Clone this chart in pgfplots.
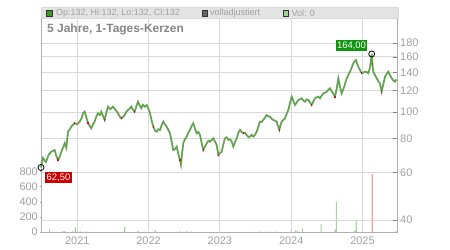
\documentclass[border=0pt]{standalone}
\usepackage{pgfplots}
\usepackage{pgfplotstable}
\pgfplotsset{compat=1.18}
\usepackage{fontspec}
\setmainfont{Liberation Sans}
\definecolor{tickgray}{HTML}{A0A0A0}
\definecolor{gridgray}{HTML}{D9D9D9}
\definecolor{axisgray}{HTML}{B0B0B0}
\definecolor{headgray}{HTML}{E3E3E3}
\definecolor{titlegray}{HTML}{858585}
\definecolor{pgreen}{HTML}{4DB030}
\definecolor{pgray}{HTML}{999999}
\definecolor{pred}{HTML}{CC1111}
\definecolor{volgreen}{HTML}{9ED994}
\definecolor{volred}{HTML}{F0A0A0}
\definecolor{boxgreen}{HTML}{119511}
\definecolor{boxred}{HTML}{CC0000}

\pgfplotstableread{
x y
2020.491 62.5
2020.519 67.8
2020.560 65.5
2020.600 69.8
2020.635 71.5
2020.683 72.5
2020.705 69.0
2020.729 66.6
2020.755 68.5
2020.776 71.5
2020.800 74.0
2020.823 76.8
2020.846 73.9
2020.870 84.7
2020.895 86.5
2020.916 88.4
2020.940 90.0
2020.964 91.0
2021.000 90.2
2021.034 92.3
2021.060 95.0
2021.080 99.1
2021.104 100.4
2021.128 95.5
2021.150 91.0
2021.175 89.0
2021.196 87.2
2021.220 90.0
2021.244 92.3
2021.268 96.5
2021.290 99.1
2021.315 97.5
2021.337 100.4
2021.360 96.8
2021.384 93.6
2021.405 99.0
2021.431 104.8
2021.465 102.5
2021.501 104.8
2021.535 102.0
2021.571 99.1
2021.595 96.5
2021.617 94.9
2021.640 96.0
2021.665 97.6
2021.690 100.5
2021.711 101.9
2021.735 103.0
2021.757 104.8
2021.780 102.0
2021.805 100.4
2021.830 105.5
2021.851 109.3
2021.875 106.0
2021.898 103.4
2021.920 106.5
2021.945 104.8
2021.973 106.3
2022.000 102.5
2022.020 99.1
2022.043 93.0
2022.066 88.4
2022.090 85.5
2022.114 84.7
2022.137 86.5
2022.160 86.0
2022.183 89.5
2022.206 92.3
2022.230 90.0
2022.254 88.4
2022.277 86.0
2022.300 83.6
2022.323 78.0
2022.346 72.5
2022.370 73.0
2022.394 74.6
2022.418 70.0
2022.440 66.6
2022.454 64.0
2022.470 70.5
2022.487 76.8
2022.510 79.5
2022.534 81.2
2022.558 84.0
2022.581 86.0
2022.605 89.0
2022.627 91.0
2022.650 87.0
2022.675 83.6
2022.698 84.5
2022.721 82.4
2022.745 77.0
2022.767 72.5
2022.790 74.5
2022.815 76.8
2022.840 78.5
2022.861 77.8
2022.885 79.0
2022.907 80.1
2022.930 78.0
2022.955 75.7
2022.978 69.5
2023.000 70.5
2023.025 71.5
2023.048 76.0
2023.071 80.1
2023.095 80.8
2023.118 79.0
2023.142 79.5
2023.166 77.8
2023.188 74.6
2023.212 77.5
2023.236 80.1
2023.260 84.0
2023.282 86.0
2023.305 84.5
2023.328 83.6
2023.352 84.0
2023.376 82.4
2023.400 81.0
2023.422 81.2
2023.445 82.5
2023.468 81.2
2023.492 82.5
2023.516 84.7
2023.540 88.5
2023.562 92.3
2023.585 92.0
2023.609 93.6
2023.632 95.5
2023.656 97.6
2023.680 96.5
2023.703 96.2
2023.726 94.5
2023.749 93.6
2023.773 93.0
2023.797 92.3
2023.815 89.0
2023.833 86.0
2023.850 89.5
2023.867 92.3
2023.890 93.5
2023.913 94.9
2023.936 98.5
2023.959 101.9
2023.983 107.9
2024.007 114.1
2024.030 110.0
2024.053 106.3
2024.077 108.5
2024.100 110.9
2024.123 111.5
2024.147 112.5
2024.170 110.5
2024.194 109.3
2024.217 111.5
2024.240 110.9
2024.265 108.5
2024.288 106.3
2024.311 109.5
2024.334 112.5
2024.357 113.5
2024.380 114.1
2024.404 112.5
2024.427 115.0
2024.450 117.4
2024.474 118.0
2024.498 119.0
2024.521 121.0
2024.544 122.5
2024.580 118.0
2024.614 114.1
2024.638 122.0
2024.661 133.4
2024.685 124.0
2024.708 117.4
2024.743 124.0
2024.778 133.4
2024.801 137.0
2024.825 141.1
2024.848 146.0
2024.871 151.5
2024.890 154.0
2024.909 155.8
2024.925 151.0
2024.941 147.2
2024.965 143.0
2024.989 139.2
2025.012 140.0
2025.035 141.1
2025.058 140.5
2025.081 139.2
2025.105 146.0
2025.129 164.0
2025.140 150.0
2025.151 141.1
2025.175 137.0
2025.199 133.4
2025.222 130.0
2025.245 127.8
2025.269 119.0
2025.292 127.0
2025.316 135.2
2025.340 138.5
2025.362 141.1
2025.385 137.0
2025.409 133.4
2025.432 131.0
2025.456 129.6
2025.475 132.0
}\price

\pgfplotstableread{
x y
2020.729 66.6
2020.964 91.0
2021.150 91.0
2021.384 93.6
2021.617 94.9
2021.805 100.4
2022.066 88.4
2022.440 66.6
2022.767 72.5
2022.978 69.5
2023.328 83.6
2023.833 86.0
2024.288 106.3
2024.614 114.1
2024.989 139.2
2025.140 150.0
2025.269 119.0
}\reds

\begin{document}
\begin{tikzpicture}
\path[use as bounding box] (0bp,0bp) rectangle (450bp,250bp);
% volume axis
\begin{axis}[
  at={(41bp,18bp)}, anchor=south west, scale only axis,
  width=356bp, height=225bp,
  xmin=2020.491, xmax=2025.484,
  ymin=0, ymax=2985,
  xtick=\empty,
  ytick={0,200,400,600,800},
  yticklabels={0,200,400,600,800},
  ytick pos=left,
  axis line style={draw=none},
  tick align=center, major tick length=3bp,
  tick style={axisgray, line width=0.6bp},
  yticklabel style={font=\fontsize{11}{12}\selectfont, text=tickgray, inner sep=0pt, xshift=-1.5bp},
  clip=false,
]
\addplot[ybar, bar width=1.1bp, bar shift=0pt, fill=volgreen, draw=none] coordinates {
(2020.613,40) (2020.800,10) (2020.823,10) (2020.940,15) (2020.972,62) (2021.040,10)
(2021.104,6) (2021.150,6) (2021.665,65) (2022.094,25) (2022.440,8) (2022.487,6)
(2022.997,15) (2023.660,6) (2023.800,8) (2024.000,40) (2024.060,20) (2024.085,12) (2024.157,45)
(2024.420,105) (2024.614,30) (2024.633,400) (2024.885,12) (2024.900,20) (2024.913,150) (2025.470,10)
};
\addplot[ybar, bar width=1.1bp, bar shift=0pt, fill=volred, draw=none] coordinates {
(2021.851,10) (2021.945,5) (2022.530,8) (2022.560,6) (2022.600,6) (2023.420,6) (2023.560,8)
(2023.700,6) (2025.137,770)
};
\end{axis}
% price axis
\begin{axis}[
  at={(41bp,18bp)}, anchor=south west, scale only axis,
  width=356bp, height=225bp,
  xmin=2020.491, xmax=2025.484,
  ymode=log, ymin=36.13, ymax=244.4,
  xtick={2021,2022,2023,2024,2025},
  xticklabels={2021,2022,2023,2024,2025},
  ytick={40,60,80,100,120,140,160,180},
  yticklabels={40,60,80,100,120,140,160,180},
  ytick pos=right, xtick pos=bottom,
  xmajorgrids, ymajorgrids,
  grid style={gridgray, line width=0.8bp},
  axis line style={axisgray, line width=0.8bp},
  tick align=inside, major tick length=4bp,
  ytick style={color=gray, line width=0.6bp},
  xtick style={draw=none},
  yticklabel style={font=\fontsize{11}{12}\selectfont, text=tickgray, inner sep=0pt, xshift=3bp},
  xticklabel style={font=\fontsize{11}{12}\selectfont, text=tickgray, inner sep=0pt, yshift=-4.5bp},
  clip=false,
]
\fill[headgray, draw=gridgray] (rel axis cs:0,0.951) rectangle (rel axis cs:1.003,1);
\node[anchor=west, inner sep=0pt, font=\bfseries\fontsize{12}{14}\selectfont, text=titlegray] at (rel axis cs:0.0169,0.902) {5 Jahre, 1-Tages-Kerzen};
\node[draw=black!80, fill=pgreen!85!black, minimum size=5.5bp, inner sep=0pt] at (rel axis cs:0.0234,0.9735) {};
\node[anchor=west, inner sep=0pt, font=\fontsize{9}{10}\selectfont, text=tickgray] at (rel axis cs:0.0421,0.9735) {Op:132, Hi:132, Lo:132, Cl:132};
\node[draw=black!80, fill=black!60, minimum size=5.5bp, inner sep=0pt] at (rel axis cs:0.4593,0.9735) {};
\node[anchor=west, inner sep=0pt, font=\fontsize{9}{10}\selectfont, text=tickgray] at (rel axis cs:0.4747,0.9735) {volladjustiert};
\node[draw=black!80, fill=volgreen, minimum size=5.5bp, inner sep=0pt] at (rel axis cs:0.6868,0.9735) {};
\node[anchor=west, inner sep=0pt, font=\fontsize{9}{10}\selectfont, text=tickgray] at (rel axis cs:0.7037,0.9735) {Vol: 0};
\addplot[pgray, line width=1.8bp] table {\price};
\addplot[pgreen, line width=1.0bp] table {\price};
\addplot[only marks, mark=|, mark size=1bp, mark options={pred, line width=1.1bp}] table {\reds};
\addplot[only marks, mark=o, mark size=3bp, mark options={black, line width=0.8bp, fill=none}] coordinates {(2025.129,164)}
  node[anchor=south east, xshift=-4bp, yshift=3bp, fill=boxgreen, text=white, inner sep=1.5bp, font=\fontsize{9.5}{10}\selectfont] {164,00};
\addplot[only marks, mark=o, mark size=3bp, mark options={black, line width=0.8bp, fill=none}] coordinates {(2020.491,62.5)}
  node[anchor=north west, xshift=4bp, yshift=-4.5bp, fill=boxred, text=white, inner sep=1.5bp, font=\fontsize{9.5}{10}\selectfont] {62,50};
\end{axis}
\end{tikzpicture}
\end{document}
